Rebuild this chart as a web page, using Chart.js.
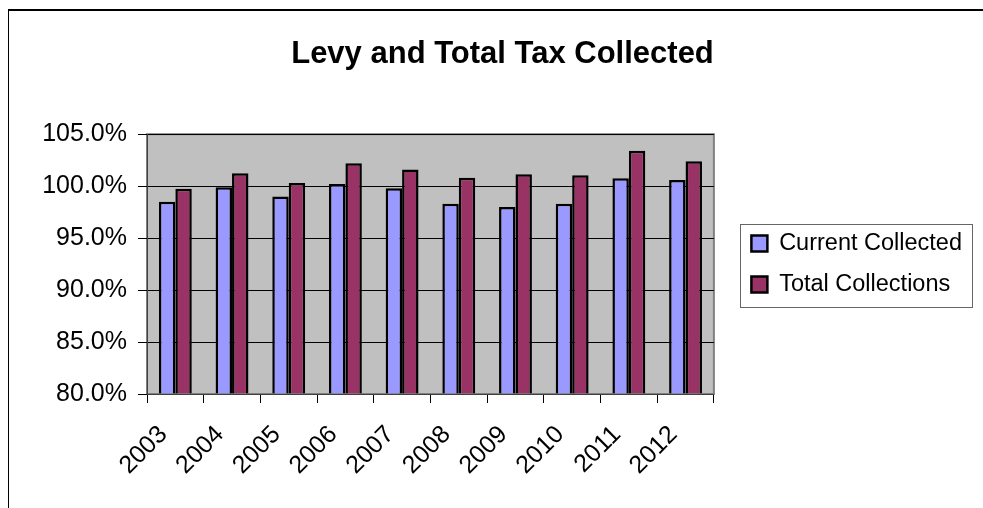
<!DOCTYPE html>
<html>
<head>
<meta charset="utf-8">
<script src="https://cdn.jsdelivr.net/npm/chart.js@4.4.1/dist/chart.umd.min.js"></script>
<style>
  html, body { margin: 0; padding: 0; background: #fff; overflow: hidden; }
  #wrap { position: relative; width: 983px; height: 508px; }
  #frame { position: absolute; left: 8px; top: 9px; width: 990px; height: 510px;
           border-left: 1px solid #000; border-top: 2px solid #000; pointer-events: none; }
  canvas { position: absolute; left: 0; top: 0; }
</style>
</head>
<body>
<div id="wrap">
  <canvas id="chart" width="983" height="508"></canvas>
  <div id="frame"></div>
</div>
<script>
// chart values (percent)
const years = ["2003", "2004", "2005", "2006", "2007", "2008", "2009", "2010", "2011", "2012"];
const currentCollected = [98.5, 99.9, 99.0, 100.2, 99.8, 98.3, 98.0, 98.3, 100.75, 100.6];
const totalCollections = [99.75, 101.25, 100.3, 102.2, 101.6, 100.8, 101.15, 101.05, 103.4, 102.4];
const yTicks = [80, 85, 90, 95, 100, 105];

const FONT = "'Liberation Sans', Arial, sans-serif";

// gray plot background with thin gray frame, plus a box round the legend
const plotFrame = {
  id: "plotFrame",
  beforeDraw(chart) {
    const { ctx, chartArea: a } = chart;
    ctx.save();
    ctx.fillStyle = "#C0C0C0";
    ctx.fillRect(a.left, a.top, a.right - a.left, a.bottom - a.top);
    ctx.strokeStyle = "#808080";
    ctx.lineWidth = 2;
    ctx.strokeRect(a.left, a.top, a.right - a.left, a.bottom - a.top);
    ctx.restore();
  },
  afterDraw(chart) {
    const hb = chart.legend.legendHitBoxes;
    if (!hb || !hb.length) return;
    const first = hb[0], last = hb[hb.length - 1];
    const ctx = chart.ctx;
    ctx.save();
    ctx.strokeStyle = "#666";
    ctx.lineWidth = 1;
    const x = Math.round(first.left - 11) + 0.5;
    const y = Math.round(first.top - 8) + 0.5;
    const w = Math.round(first.width + 21);
    const h = Math.round(last.top + last.height + 10 - first.top + 8);
    ctx.strokeRect(x, y, w, h);
    ctx.restore();
  }
};

new Chart(document.getElementById("chart"), {
  type: "bar",
  data: {
    labels: years,
    datasets: [
      {
        label: "Current Collected",
        data: currentCollected,
        backgroundColor: "#9999FF",
        borderColor: "#000",
        borderWidth: 2.5,
        base: 80,
      },
      {
        label: "Total Collections",
        data: totalCollections,
        backgroundColor: "#993366",
        borderColor: "#000",
        borderWidth: 2.5,
        base: 80,
      },
    ],
  },
  options: {
    responsive: false,
    animation: false,
    devicePixelRatio: 1,
    datasets: { bar: { categoryPercentage: 0.58, barPercentage: 1 } },
    layout: { padding: { left: 33, right: 11, top: 9, bottom: 0 } },
    plugins: {
      title: {
        display: true,
        text: "Levy and Total Tax Collected",
        color: "#000",
        font: { family: FONT, size: 31, weight: "bold" },
        padding: { top: 27, bottom: 61 },
      },
      legend: {
        position: "right",
        fullSize: false,
        maxWidth: 320,
        labels: {
          color: "#000",
          font: { family: FONT, size: 23.5 },
          boxWidth: 16,
          boxHeight: 16,
          padding: 17.5,
        },
      },
      tooltip: { enabled: false },
    },
    scales: {
      x: {
        grid: { display: true, drawOnChartArea: false, drawTicks: true, tickLength: 9, offset: true, color: "#000" },
        border: { display: true, color: "#404040", width: 1 },
        ticks: {
          color: "#000",
          font: { family: FONT, size: 25 },
          minRotation: 45,
          maxRotation: 45,
          autoSkip: false,
          padding: 17,
          labelOffset: -12,
        },
        afterFit(s) { s.height = 114; },
      },
      y: {
        min: yTicks[0],
        max: yTicks[yTicks.length - 1],
        afterBuildTicks(s) { s.ticks = yTicks.map(v => ({ value: v })); },
        grid: { color: "#000", lineWidth: 1, tickLength: 9 },
        border: { display: true, color: "#404040", width: 1 },
        ticks: {
          color: "#000",
          font: { family: FONT, size: 25 },
          padding: 11,
          callback: v => v.toFixed(1) + "%",
        },
        afterFit(s) { s.width = 114; },
      },
      gap: {
        type: "linear",
        position: "right",
        display: true,
        grid: { display: false },
        border: { display: false },
        ticks: { display: false },
        afterFit(s) { s.width = 20; },
      },
    },
  },
  plugins: [plotFrame],
});
</script>
</body>
</html>
